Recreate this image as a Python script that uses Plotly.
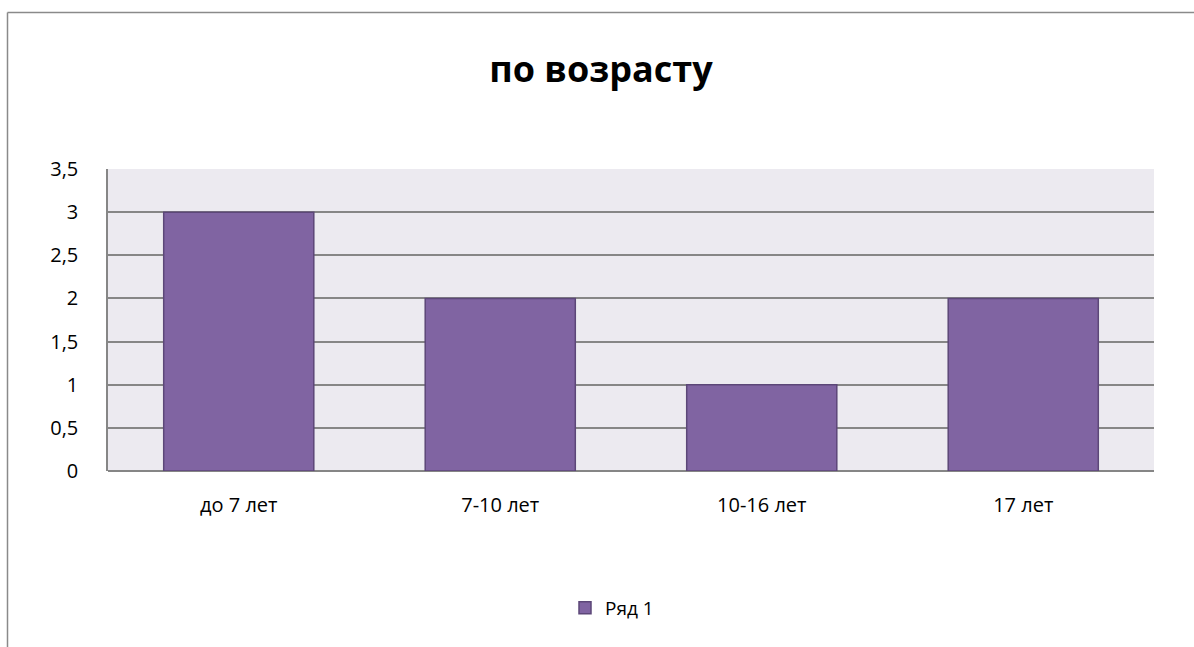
import plotly.graph_objects as go

categories = ["до 7 лет", "7-10 лет", "10-16 лет", "17 лет"]
values = [3, 2, 1, 2]
series_name = "Ряд 1"
y_ticks = [0, 0.5, 1, 1.5, 2, 2.5, 3, 3.5]

W, H = 1194, 647
L, R, T, B = 108, 40, 169, 176
pw, ph = W - L - R, H - T - B

def fx(px):
    return (px - L) / pw

def fy(py):
    return (H - B - py) / ph

fig = go.Figure()
fig.add_trace(go.Bar(
    x=categories, y=values, name=series_name,
    marker=dict(color="#8064A2", line=dict(color="#5C4778", width=1.5)),
    showlegend=True,
))

fig.update_layout(
    width=W, height=H,
    margin=dict(l=L, r=R, t=T, b=B),
    paper_bgcolor="white",
    plot_bgcolor="#ECEAF0",
    separators=", ",
    font=dict(family="Open Sans, Liberation Sans, sans-serif", size=20, color="black"),
    title=dict(text="<b>по возрасту</b>", x=601 / W, xanchor="center",
               y=1 - 69 / H, yanchor="middle", xref="container",
               font=dict(size=36, family="Open Sans, sans-serif", color="black")),
    bargap=0.426,
    showlegend=True,
    legend=dict(orientation="h", x=fx(612), xanchor="center", y=fy(608), yanchor="middle",
                font=dict(size=19), itemwidth=30),
    xaxis=dict(showgrid=False, showline=False, ticks="", ticklabelstandoff=20),
    yaxis=dict(range=[0, 3.5], tickvals=y_ticks, showgrid=True, gridcolor="#868686",
               gridwidth=1.5, zeroline=True, zerolinecolor="#868686", zerolinewidth=1.5,
               showline=True, linecolor="#868686", linewidth=1.5, ticks="",
               ticklabelstandoff=24),
    shapes=[
        dict(type="line", xref="paper", yref="paper", x0=fx(7.5), x1=fx(1300),
             y0=fy(12.5), y1=fy(12.5), line=dict(color="#8A8A8A", width=1.5)),
        dict(type="line", xref="paper", yref="paper", x0=fx(7.5), x1=fx(7.5),
             y0=fy(12.5), y1=fy(700), line=dict(color="#8A8A8A", width=1.5)),
    ],
)

fig.write_html("out.html", config={"displayModeBar": False},
               post_script="document.body.style.margin='0';")
